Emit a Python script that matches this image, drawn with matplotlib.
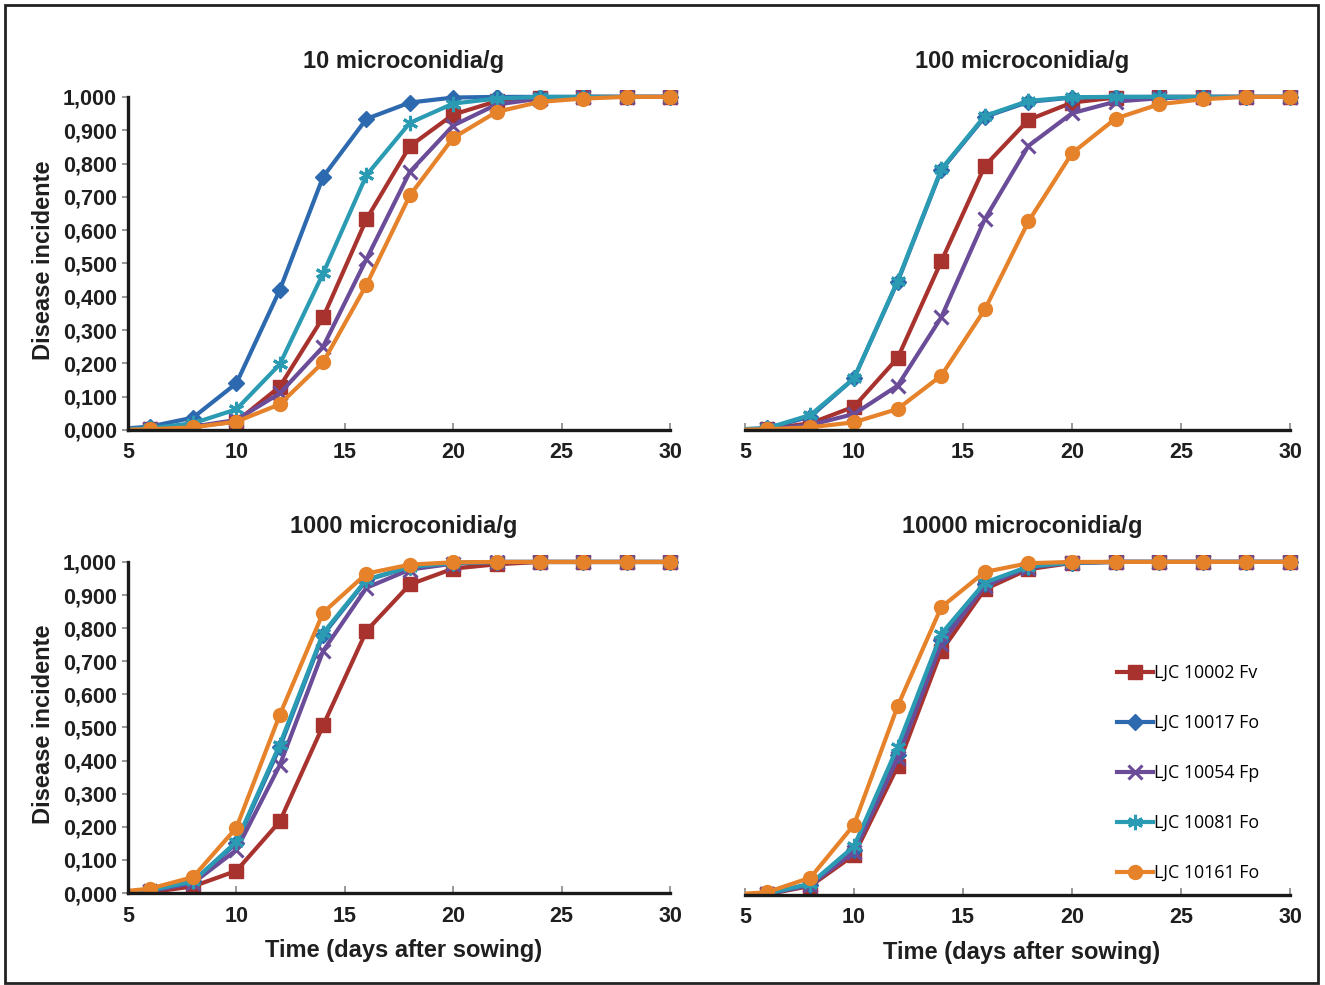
import matplotlib
matplotlib.use("Agg")
import matplotlib.pyplot as plt
from matplotlib.patches import Rectangle
from matplotlib.ticker import FuncFormatter

plt.rcParams['font.family'] = ['Liberation Sans', 'DejaVu Sans']

# giorni dopo la semina (il punto a 4 resta fuori dall'asse, la linea parte dal bordo)
days = [4, 6, 8, 10, 12, 14, 16, 18, 20, 22, 24, 26, 28, 30]

ceppi = ["LJC 10002 Fv", "LJC 10017 Fo", "LJC 10054 Fp", "LJC 10081 Fo", "LJC 10161 Fo"]
colori = ["#A8322D", "#2D69AE", "#6A4C98", "#2A9BB3", "#E5822A"]
marker = ["s", "D", "x", (6, 2, 0), "o"]

titoli = ["10 microconidia/g", "100 microconidia/g", "1000 microconidia/g", "10000 microconidia/g"]

# 10 microconidia/g
d10_fv = [0, 0.003, 0.010, 0.025, 0.130, 0.338, 0.633, 0.852, 0.947, 0.987, 0.997, 1.0, 1.0, 1.0]
d10_fo17 = [0, 0.010, 0.037, 0.140, 0.420, 0.760, 0.934, 0.983, 0.998, 1.0, 1.0, 1.0, 1.0, 1.0]
d10_fp = [0, 0.002, 0.010, 0.030, 0.110, 0.250, 0.513, 0.775, 0.914, 0.977, 0.995, 1.0, 1.0, 1.0]
d10_fo81 = [0, 0.005, 0.020, 0.062, 0.197, 0.470, 0.765, 0.922, 0.980, 0.995, 1.0, 1.0, 1.0, 1.0]
d10_fo161 = [0, 0.002, 0.008, 0.025, 0.077, 0.203, 0.436, 0.704, 0.877, 0.955, 0.985, 0.995, 1.0, 1.0]

# 100 microconidia/g
d100_fv = [0, 0.003, 0.020, 0.070, 0.216, 0.506, 0.793, 0.931, 0.983, 0.998, 1.0, 1.0, 1.0, 1.0]
d100_fo17 = [0, 0.005, 0.040, 0.155, 0.445, 0.780, 0.940, 0.985, 0.998, 1.0, 1.0, 1.0, 1.0, 1.0]
d100_fp = [0, 0.002, 0.015, 0.048, 0.133, 0.338, 0.633, 0.853, 0.951, 0.986, 0.996, 1.0, 1.0, 1.0]
d100_fo81 = [0, 0.005, 0.045, 0.155, 0.448, 0.783, 0.943, 0.988, 0.999, 1.0, 1.0, 1.0, 1.0, 1.0]
d100_fo161 = [0, 0.002, 0.008, 0.023, 0.063, 0.163, 0.362, 0.626, 0.831, 0.935, 0.978, 0.993, 1.0, 1.0]

# 1000 microconidia/g
d1000_fv = [0, 0.002, 0.020, 0.067, 0.216, 0.506, 0.792, 0.932, 0.980, 0.993, 1.0, 1.0, 1.0, 1.0]
d1000_fo17 = [0, 0.008, 0.035, 0.150, 0.440, 0.780, 0.945, 0.985, 0.997, 1.0, 1.0, 1.0, 1.0, 1.0]
d1000_fp = [0, 0.005, 0.030, 0.130, 0.386, 0.731, 0.922, 0.977, 0.995, 1.0, 1.0, 1.0, 1.0, 1.0]
d1000_fo81 = [0, 0.008, 0.035, 0.155, 0.448, 0.785, 0.947, 0.985, 0.997, 1.0, 1.0, 1.0, 1.0, 1.0]
d1000_fo161 = [0, 0.013, 0.048, 0.197, 0.538, 0.847, 0.965, 0.992, 0.999, 1.0, 1.0, 1.0, 1.0, 1.0]

# 10000 microconidia/g
d10000_fv = [0, 0.002, 0.027, 0.120, 0.386, 0.732, 0.918, 0.978, 0.997, 1.0, 1.0, 1.0, 1.0, 1.0]
d10000_fo17 = [0, 0.004, 0.030, 0.135, 0.420, 0.765, 0.933, 0.985, 0.998, 1.0, 1.0, 1.0, 1.0, 1.0]
d10000_fp = [0, 0.003, 0.030, 0.130, 0.410, 0.755, 0.928, 0.983, 0.998, 1.0, 1.0, 1.0, 1.0, 1.0]
d10000_fo81 = [0, 0.004, 0.034, 0.146, 0.445, 0.784, 0.938, 0.986, 0.998, 1.0, 1.0, 1.0, 1.0, 1.0]
d10000_fo161 = [0, 0.008, 0.052, 0.211, 0.567, 0.864, 0.970, 0.996, 1.0, 1.0, 1.0, 1.0, 1.0, 1.0]

pannelli = [
    [d10_fv, d10_fo17, d10_fp, d10_fo81, d10_fo161],
    [d100_fv, d100_fo17, d100_fp, d100_fo81, d100_fo161],
    [d1000_fv, d1000_fo17, d1000_fp, d1000_fo81, d1000_fo161],
    [d10000_fv, d10000_fo17, d10000_fp, d10000_fo81, d10000_fo161],
]

fig = plt.figure(figsize=(13.25, 9.85), dpi=100)

# posizioni degli assi [left, bottom, width, height]
posizioni = [
    [0.0966, 0.5635, 0.4156, 0.3449],
    [0.5623, 0.5635, 0.4179, 0.3449],
    [0.0966, 0.0934, 0.4156, 0.3428],
    [0.5623, 0.0914, 0.4179, 0.3449],
]

fmt = FuncFormatter(lambda v, p: f"{v:.3f}".replace(".", ","))
testo = '#1f1f1f'

for i, (pos, serie) in enumerate(zip(posizioni, pannelli)):
    ax = fig.add_axes(pos)
    for nome, col, mk, y in zip(ceppi, colori, marker, serie):
        if mk == "x":
            ms, mew = 10, 2.2
        elif mk == "D":
            ms, mew = 8, 1
        elif mk in ("s", "o"):
            ms, mew = 10, 1
        else:
            ms, mew = 11, 2.2  # asterisco
        ax.plot(days, y, color=col, lw=3, marker=mk, markersize=ms,
                markeredgewidth=mew, markeredgecolor=col, label=nome)
    ax.set_xlim(5, 30.4)
    ax.set_ylim(0, 1.02)
    ax.spines['right'].set_visible(False)
    ax.spines['top'].set_visible(False)
    ax.spines['left'].set_bounds(0, 1)
    ax.spines['bottom'].set_bounds(5, 30)
    for s in ('left', 'bottom'):
        ax.spines[s].set_linewidth(2.4)
        ax.spines[s].set_color('#1a1a1a')
    ax.set_xticks([5, 10, 15, 20, 25, 30])
    ax.tick_params(axis='x', direction='in', length=5, width=1.2, color='#888888', pad=9)
    if i % 2 == 0:
        ax.set_yticks([k / 10 for k in range(11)])
        ax.yaxis.set_major_formatter(fmt)
        ax.tick_params(axis='y', direction='out', length=4, width=1.2, color='#888888', pad=4)
        ax.set_ylabel("Disease incidente", fontsize=17, fontweight='bold', color=testo, labelpad=6)
    else:
        # i pannelli di destra non hanno asse verticale
        ax.spines['left'].set_visible(False)
        ax.set_yticks([])
    for lab in ax.get_xticklabels() + ax.get_yticklabels():
        lab.set_fontweight('bold')
        lab.set_fontsize(15.5)
        lab.set_color(testo)
    ax.set_title(titoli[i], fontsize=17, fontweight='bold', color=testo, pad=16)
    if i >= 2:
        ax.set_xlabel("Time (days after sowing)", fontsize=17, fontweight='bold', color=testo, labelpad=9)
    if i == 3:
        ax.legend(loc='center left', bbox_to_anchor=(0.659, 0.359), frameon=False,
                  prop={'family': 'Open Sans', 'size': 12.8},
                  handlelength=2.0, handletextpad=0.1, labelspacing=1.8,
                  borderaxespad=0)

# cornice esterna
fig.patches.append(Rectangle((0.004, 0.002), 0.991, 0.993, transform=fig.transFigure,
                             fill=False, edgecolor='#222222', linewidth=2))

fig.savefig("out.png", dpi=100)
plt.close(fig)
